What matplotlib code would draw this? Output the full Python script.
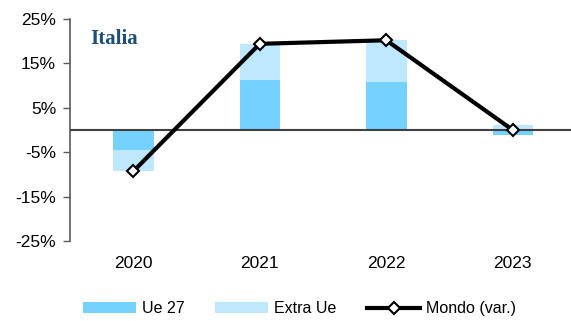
import numpy as np
import matplotlib
matplotlib.use('Agg')
import matplotlib.pyplot as plt
from matplotlib.patches import Patch
from matplotlib.lines import Line2D

# dati
anni = ['2020', '2021', '2022', '2023']
ue27 = [-4.4, 11.3, 10.7, -1.2]
extra_ue = [-4.9, 8.0, 9.5, 1.1]
mondo = [-9.3, 19.4, 20.2, 0.0]

c_ue = '#75D1FF'
c_extra = '#BDE8FF'

plt.rcParams['font.family'] = ['Liberation Sans', 'DejaVu Sans']

fig = plt.figure(figsize=(5.71, 3.21), dpi=100)
ax = fig.add_axes([0.1226, 0.249, 0.8774, 0.692])

x = np.arange(len(anni))
w = 0.32

# barre impilate: parte negativa e positiva separate
ue = np.array(ue27)
ex = np.array(extra_ue)
ax.bar(x, ue, w, color=c_ue, zorder=2)
base_ex = np.where(np.sign(ex) == np.sign(ue), ue, 0)
ax.bar(x, ex, w, bottom=base_ex, color=c_extra, zorder=2)

ax.axhline(0, color='#404040', linewidth=1.5, zorder=3)

ax.plot(x, mondo, color='black', linewidth=3, marker='D', markersize=6.5,
        markerfacecolor='white', markeredgecolor='black', markeredgewidth=1.5, zorder=4)

ax.set_xlim(-0.5, 3.46)
ax.set_ylim(-25, 25)
ax.set_yticks([-25, -15, -5, 5, 15, 25])
ax.set_yticklabels(['-25%', '-15%', '-5%', '5%', '15%', '25%'], fontsize=12.5)
ax.set_xticks(x)
ax.set_xticklabels(anni, fontsize=12.5)
ax.tick_params(axis='x', length=0, pad=11)
ax.tick_params(axis='y', length=5, width=1, color='#595959', pad=5)

for s in ['top', 'right', 'bottom']:
    ax.spines[s].set_visible(False)
ax.spines['left'].set_color('#595959')
ax.spines['left'].set_linewidth(1.2)

ax.text(0.04, 0.955, 'Italia', transform=ax.transAxes, fontsize=15, fontweight='bold',
        family='Liberation Serif', color='#1F4E79', va='top', ha='left')

handles = [Patch(facecolor=c_ue, label='Ue 27'),
           Patch(facecolor=c_extra, label='Extra Ue'),
           Line2D([0], [0], color='black', linewidth=3, marker='D', markersize=6.5,
                  markerfacecolor='white', markeredgecolor='black', markeredgewidth=1.5,
                  label='Mondo (var.)')]
fig.legend(handles=handles, loc='lower center', bbox_to_anchor=(0.525, -0.03), ncol=3,
           frameon=False, fontsize=11.5, handlelength=3.3, handleheight=0.7,
           columnspacing=1.9, handletextpad=0.4)

fig.savefig('out.png', dpi=100)
